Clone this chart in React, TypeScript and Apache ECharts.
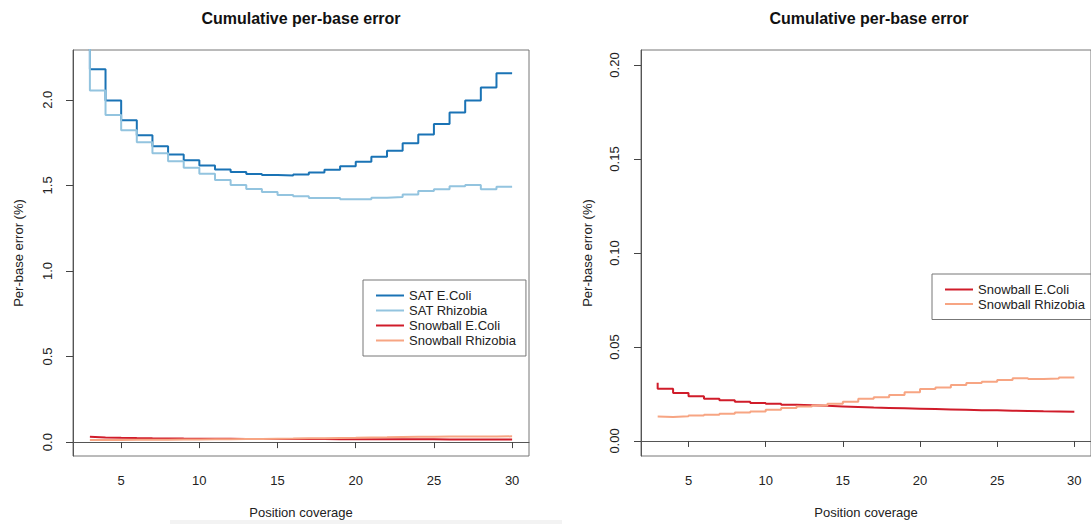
import React, { useEffect, useRef } from 'react';
import * as echarts from 'echarts';

const COVERAGE = [3, 4, 5, 6, 7, 8, 9, 10, 11, 12, 13, 14, 15, 16, 17, 18, 19, 20, 21, 22, 23, 24, 25, 26, 27, 28, 29, 30];
const SAT_ECOLI = [2.30, 2.178, 1.996, 1.880, 1.793, 1.729, 1.680, 1.647, 1.616, 1.593, 1.578, 1.566, 1.560, 1.558, 1.564, 1.576, 1.591, 1.612, 1.638, 1.667, 1.703, 1.746, 1.797, 1.859, 1.926, 1.996, 2.072, 2.155];
const SAT_RHIZOBIA = [2.40, 2.054, 1.911, 1.822, 1.752, 1.688, 1.641, 1.603, 1.568, 1.531, 1.502, 1.479, 1.461, 1.444, 1.436, 1.426, 1.426, 1.419, 1.419, 1.428, 1.432, 1.447, 1.467, 1.477, 1.495, 1.502, 1.477, 1.492];
const SNOWBALL_ECOLI = [0.0310, 0.0278, 0.0255, 0.0238, 0.0225, 0.0216, 0.0208, 0.0202, 0.0198, 0.0193, 0.0190, 0.0187, 0.0184, 0.0181, 0.0178, 0.0176, 0.0174, 0.0172, 0.0170, 0.0168, 0.0166, 0.0164, 0.0163, 0.0161, 0.0160, 0.0158, 0.0157, 0.0155];
const SNOWBALL_RHIZOBIA = [0.0130, 0.0128, 0.0131, 0.0135, 0.0140, 0.0145, 0.0152, 0.0157, 0.0166, 0.0175, 0.0184, 0.0189, 0.0198, 0.0208, 0.0224, 0.0233, 0.0245, 0.0259, 0.0276, 0.0285, 0.0298, 0.0308, 0.0315, 0.0324, 0.0334, 0.0329, 0.0332, 0.0338];

const X_TICKS = [5, 10, 15, 20, 25, 30];
const Y_TICKS_LEFT = [0, 0.5, 1.0, 1.5, 2.0];
const Y_TICKS_RIGHT = [0, 0.05, 0.1, 0.15, 0.2];

const TITLE = 'Cumulative per-base error';
const X_NAME = 'Position coverage';
const Y_NAME = 'Per-base error (%)';
const NAMES = ['SAT E.Coli', 'SAT Rhizobia', 'Snowball E.Coli', 'Snowball Rhizobia'];
const COLORS = ['#1a73b5', '#93c4df', '#d01c2a', '#f7a583'];

const FONT = '"Liberation Sans", Arial, Helvetica, sans-serif';

function pairs(vals: number[]) {
  return COVERAGE.map((x, i) => [x, vals[i]]);
}

export default function App() {
  const ref = useRef<HTMLDivElement>(null);
  useEffect(() => {
    document.body.style.margin = '0';
    if (!ref.current) return;
    const chart = echarts.init(ref.current, undefined, { renderer: 'svg' });

    const xAxisBase = (gridIndex: number, margin: number, nameGap: number) => ({
      type: 'value',
      gridIndex,
      min: 1.92,
      max: 31.08,
      name: X_NAME,
      nameLocation: 'middle',
      nameGap,
      nameTextStyle: { fontSize: 13, color: '#222', fontFamily: FONT },
      axisLine: { show: true, lineStyle: { color: '#555', width: 1 } },
      axisTick: { show: true, length: 6, customValues: X_TICKS, lineStyle: { color: '#444' } },
      axisLabel: { customValues: X_TICKS, fontSize: 13, color: '#222', fontFamily: FONT, margin },
      splitLine: { show: false },
    });

    const yAxisBase = (gridIndex: number, min: number, max: number, ticks: number[], digits: number, margin: number, nameGap: number) => ({
      type: 'value',
      gridIndex,
      min,
      max,
      name: Y_NAME,
      nameLocation: 'middle',
      nameGap,
      nameTextStyle: { fontSize: 13, color: '#222', fontFamily: FONT },
      axisLine: { show: true, lineStyle: { color: '#555', width: 1 } },
      axisTick: { show: true, length: 7, customValues: ticks, lineStyle: { color: '#444' } },
      axisLabel: {
        customValues: ticks,
        rotate: 90,
        fontSize: 13,
        color: '#222',
        fontFamily: FONT,
        margin,
        formatter: (v: number) => v.toFixed(digits),
      },
      splitLine: { show: false },
    });

    const lineSeries = (name: string, color: string, vals: number[], idx: number) => ({
      type: 'line',
      name,
      xAxisIndex: idx,
      yAxisIndex: idx,
      data: pairs(vals),
      step: 'start',
      symbol: 'none',
      showSymbol: false,
      clip: true,
      lineStyle: { color, width: 2 },
      itemStyle: { color },
    });

    const legendBase = {
      orient: 'vertical',
      itemWidth: 28,
      itemHeight: 14,
      selectedMode: false,
      borderColor: '#777',
      borderWidth: 1,
      borderRadius: 0,
      itemStyle: { opacity: 0 },
      lineStyle: { width: 2 },
      textStyle: { fontSize: 13, color: '#222', fontFamily: FONT },
    };

    chart.setOption({
      animation: false,
      backgroundColor: '#ffffff',
      grid: [
        { left: 73, top: 50, width: 456, height: 408, show: true, borderColor: '#777', borderWidth: 1, containLabel: false },
        { left: 641, top: 50, width: 459, height: 411, show: true, borderColor: '#777', borderWidth: 1, containLabel: false },
      ],
      xAxis: [xAxisBase(0, 18, 50), xAxisBase(1, 18, 50)],
      yAxis: [
        yAxisBase(0, -0.081, 2.291, Y_TICKS_LEFT, 1, 19, 48),
        yAxisBase(1, -0.008, 0.208, Y_TICKS_RIGHT, 2, 20, 47),
      ],
      legend: [
        { ...legendBase, left: 363, top: 280, itemGap: 2, padding: [9, 10, 9, 12], data: NAMES },
        { ...legendBase, left: 932, top: 274, itemGap: 1.5, padding: [9, 24, 9, 12], data: NAMES.slice(2) },
      ],
      series: [
        lineSeries(NAMES[0], COLORS[0], SAT_ECOLI, 0),
        lineSeries(NAMES[1], COLORS[1], SAT_RHIZOBIA, 0),
        lineSeries(NAMES[2], COLORS[2], SNOWBALL_ECOLI, 0),
        lineSeries(NAMES[3], COLORS[3], SNOWBALL_RHIZOBIA, 0),
        lineSeries(NAMES[2], COLORS[2], SNOWBALL_ECOLI, 1),
        lineSeries(NAMES[3], COLORS[3], SNOWBALL_RHIZOBIA, 1),
      ],
      graphic: [
        { type: 'rect', silent: true, z: -1, shape: { x: 170, y: 520, width: 392, height: 4 }, style: { fill: '#f3f3f3' } },
        {
          type: 'text', x: 301, y: 18,
          style: { text: TITLE, align: 'center', verticalAlign: 'middle', textAlign: 'center', textVerticalAlign: 'middle', fontSize: 16, fontWeight: 'bold', fontFamily: FONT, fill: '#111' },
        },
        {
          type: 'text', x: 869, y: 18,
          style: { text: TITLE, align: 'center', verticalAlign: 'middle', textAlign: 'center', textVerticalAlign: 'middle', fontSize: 16, fontWeight: 'bold', fontFamily: FONT, fill: '#111' },
        },
      ],
    });

    return () => chart.dispose();
  }, []);

  return <div ref={ref} style={{ width: 1091, height: 524 }} />;
}
